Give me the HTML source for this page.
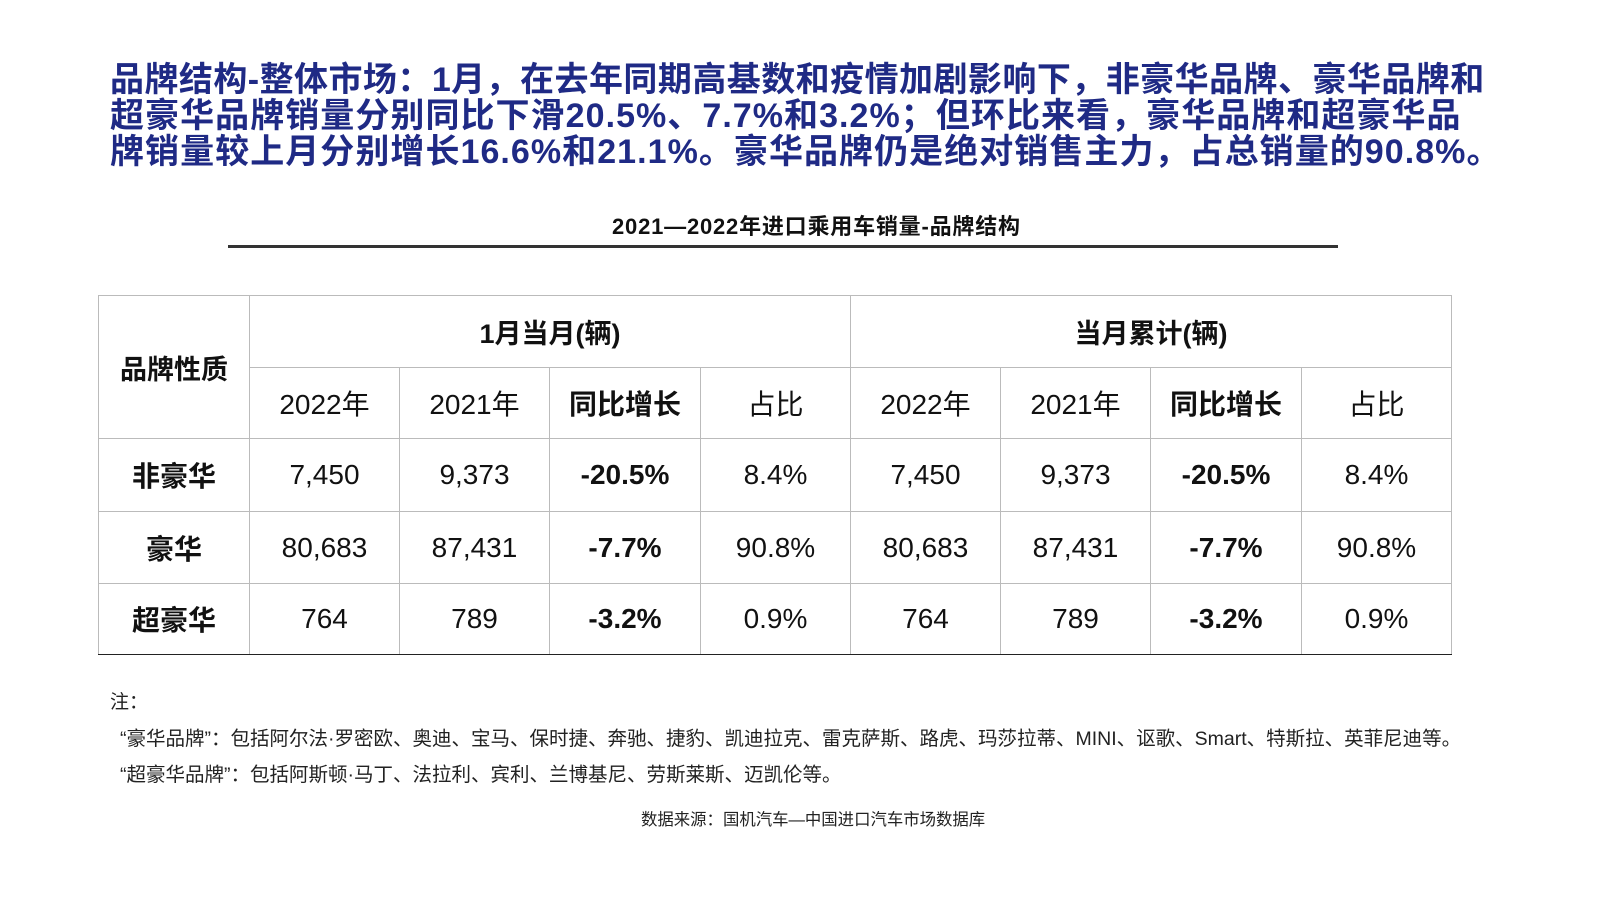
<!DOCTYPE html><html><head><meta charset="utf-8"><style>
body{margin:0;width:1600px;height:899px;background:#fff;position:relative;overflow:hidden;font-family:"Liberation Sans","Noto Sans CJK SC",sans-serif;}
.t{position:absolute;left:110px;color:#1f2a85;font-weight:bold;font-size:34px;white-space:nowrap;line-height:36px;}
.a{position:absolute;white-space:nowrap;}
table{position:absolute;left:98px;top:295px;border-collapse:collapse;}
td{border:1px solid #bbb;text-align:center;font-size:28px;color:#111;padding:0;}
td.b{font-weight:bold;}
tr.r td{border-top:1px solid #222;}
tr.last td{border-bottom:1px solid #222;}
</style></head><body>
<div class="t" style="top:62px;letter-spacing:0.45px">品牌结构-整体市场：1月，在去年同期高基数和疫情加剧影响下，非豪华品牌、豪华品牌和</div>
<div class="t" style="top:98px;letter-spacing:1.05px">超豪华品牌销量分别同比下滑20.5%、7.7%和3.2%；但环比来看，豪华品牌和超豪华品</div>
<div class="t" style="top:134px;letter-spacing:1.05px">牌销量较上月分别增长16.6%和21.1%。豪华品牌仍是绝对销售主力，占总销量的90.8%。</div>
<div class="a" style="left:612px;top:209px;font-size:22px;letter-spacing:0.8px;font-weight:bold;color:#111">2021—2022年进口乘用车销量-品牌结构</div>
<div class="a" style="left:228px;top:245px;width:1110px;height:3px;background:#333"></div>
<table>
<colgroup><col style="width:151px"><col style="width:150px"><col style="width:150px"><col style="width:151px"><col style="width:150px"><col style="width:150px"><col style="width:150px"><col style="width:151px"><col style="width:150px"></colgroup>
<tr style="height:72px"><td rowspan="2" class="b" style="font-size:27px">品牌性质</td><td colspan="4" class="b" style="font-size:27px">1月当月(辆)</td><td colspan="4" class="b" style="font-size:27px">当月累计(辆)</td></tr>
<tr style="height:71px"><td>2022年</td><td>2021年</td><td class="b">同比增长</td><td>占比</td><td>2022年</td><td>2021年</td><td class="b">同比增长</td><td>占比</td></tr>
<tr class="r" style="height:73px"><td class="b">非豪华</td><td>7,450</td><td>9,373</td><td class="b">-20.5%</td><td>8.4%</td><td>7,450</td><td>9,373</td><td class="b">-20.5%</td><td>8.4%</td></tr>
<tr class="r" style="height:72px"><td class="b">豪华</td><td>80,683</td><td>87,431</td><td class="b">-7.7%</td><td>90.8%</td><td>80,683</td><td>87,431</td><td class="b">-7.7%</td><td>90.8%</td></tr>
<tr class="r last" style="height:71px"><td class="b">超豪华</td><td>764</td><td>789</td><td class="b">-3.2%</td><td>0.9%</td><td>764</td><td>789</td><td class="b">-3.2%</td><td>0.9%</td></tr>
</table>
<div class="a" style="left:110px;top:687px;font-size:19px;color:#222">注：</div>
<div class="a" style="left:120px;top:722px;font-size:19.5px;color:#222">“豪华品牌”：包括阿尔法·罗密欧、奥迪、宝马、保时捷、奔驰、捷豹、凯迪拉克、雷克萨斯、路虎、玛莎拉蒂、MINI、讴歌、Smart、特斯拉、英菲尼迪等。</div>
<div class="a" style="left:120px;top:758px;font-size:19.5px;color:#222">“超豪华品牌”：包括阿斯顿·马丁、法拉利、宾利、兰博基尼、劳斯莱斯、迈凯伦等。</div>
<div class="a" style="left:641px;top:806px;font-size:16.4px;color:#222">数据来源：国机汽车—中国进口汽车市场数据库</div>
</body></html>
